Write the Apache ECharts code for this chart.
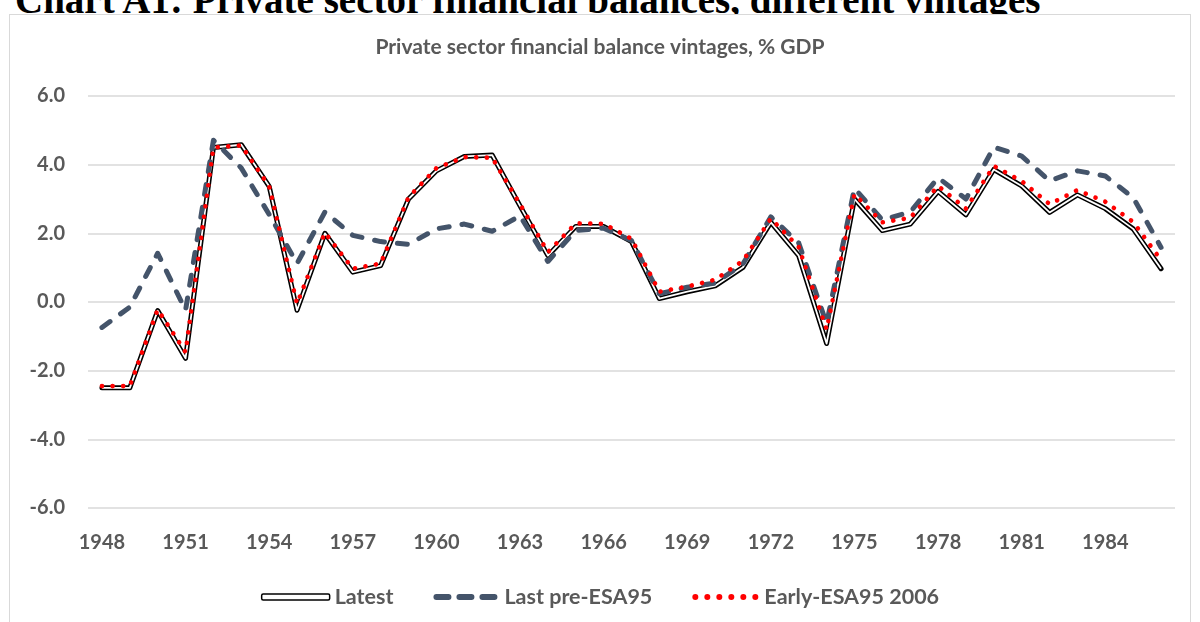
<!DOCTYPE html>
<html>
<head>
<meta charset="utf-8">
<script src="https://cdn.jsdelivr.net/npm/echarts@6/dist/echarts.min.js"></script>
<style>
    html, body {margin: 0; padding: 0; background: #fff; overflow: hidden;}
    #heading {
        position: absolute; left: 15px; top: -20px;
        font: bold 39px/39px "Liberation Serif", "Times New Roman", serif;
        color: #000; white-space: nowrap;
    }
    #box {
        position: absolute; left: 9px; top: 14px; width: 1180px; height: 640px;
        border: 1.5px solid #d9d9d9; background: #fff;
    }
    #chart {position: absolute; left: 0; top: 0; width: 1200px; height: 622px;}
</style>
</head>
<body>
<div id="heading">Chart A1: Private sector financial balances, different vintages</div>
<div id="box"></div>
<div id="chart"></div>
<script>
// years 1948 - 1986
const years = [
    '1948', '1949', '1950', '1951', '1952', '1953', '1954', '1955', '1956', '1957',
    '1958', '1959', '1960', '1961', '1962', '1963', '1964', '1965', '1966', '1967',
    '1968', '1969', '1970', '1971', '1972', '1973', '1974', '1975', '1976', '1977',
    '1978', '1979', '1980', '1981', '1982', '1983', '1984', '1985', '1986'
];

const latest = [
    -2.5, -2.5, -0.25, -1.64, 4.5, 4.58, 3.37, -0.24, 2.0, 0.87,
    1.06, 3.0, 3.82, 4.24, 4.28, 2.8, 1.35, 2.2, 2.2, 1.76,
    0.1, 0.3, 0.47, 1.01, 2.32, 1.35, -1.21, 3.0, 2.08, 2.27,
    3.22, 2.54, 3.86, 3.38, 2.61, 3.12, 2.72, 2.13, 0.97
];

const preEsa95 = [
    -0.74, -0.15, 1.42, -0.24, 4.71, 3.9, 2.55, 1.12, 2.62, 1.94,
    1.76, 1.68, 2.13, 2.27, 2.06, 2.51, 1.18, 2.08, 2.15, 1.79,
    0.24, 0.43, 0.55, 1.11, 2.48, 1.72, -0.63, 3.31, 2.39, 2.62,
    3.62, 3.0, 4.51, 4.25, 3.53, 3.82, 3.67, 3.04, 1.59
];

const earlyEsa95 = [
    -2.45, -2.45, -0.22, -1.46, 4.5, 4.56, 3.37, -0.05, 2.02, 0.97,
    1.12, 3.05, 3.9, 4.22, 4.2, 2.85, 1.45, 2.29, 2.28, 1.84,
    0.3, 0.45, 0.65, 1.2, 2.43, 1.6, -0.8, 3.14, 2.32, 2.45,
    3.38, 2.72, 3.96, 3.52, 2.85, 3.26, 2.92, 2.33, 1.22
];

const grey = '#595959';
const font = 'Lato, "Open Sans", sans-serif';

// legend icons: three round dashes / six dots
const dashIcon = 'path://M3,0H15A3,3 0 0 1 15,6H3A3,3 0 0 1 3,0Z'
    + 'M26,0H38A3,3 0 0 1 38,6H26A3,3 0 0 1 26,0Z'
    + 'M49,0H61A3,3 0 0 1 61,6H49A3,3 0 0 1 49,0Z';
let dotIcon = 'path://';
for (let i = 0; i < 6; i++) {
    let cx = 3 + i * 12;
    dotIcon += 'M' + (cx - 3) + ',3a3,3 0 1 0 6,0a3,3 0 1 0 -6,0Z';
}

let chart = echarts.init(document.getElementById('chart'));

chart.setOption({
    animation: false,
    title: {
        text: 'Private sector financial balance vintages, % GDP',
        left: 'center',
        top: 32,
        textStyle: {color: grey, fontFamily: font, fontWeight: 'bold', fontSize: 21}
    },
    grid: {left: 88, right: 25, top: 96, bottom: 114},
    legend: {
        bottom: 9,
        left: 'center',
        itemWidth: 68,
        itemHeight: 6,
        itemGap: 40,
        textStyle: {color: grey, fontFamily: font, fontWeight: 'bold', fontSize: 21.5},
        data: [
            {
                name: 'Latest',
                icon: 'roundRect',
                itemStyle: {color: '#fff', borderColor: '#000', borderWidth: 1.5}
            },
            {name: 'Last pre-ESA95', icon: dashIcon, itemStyle: {color: '#44546a'}},
            {name: 'Early-ESA95 2006', icon: dotIcon, itemStyle: {color: '#ff0000'}}
        ]
    },
    xAxis: {
        type: 'category',
        data: years,
        boundaryGap: true,
        axisLine: {show: false},
        axisTick: {show: false},
        axisLabel: {
            interval: 2,
            margin: 25,
            color: grey,
            fontFamily: font,
            fontWeight: 'bold',
            fontSize: 20
        }
    },
    yAxis: {
        type: 'value',
        min: -6,
        max: 6,
        interval: 2,
        axisLine: {show: false},
        axisTick: {show: false},
        axisLabel: {
            margin: 23,
            color: grey,
            fontFamily: font,
            fontWeight: 'bold',
            fontSize: 20,
            formatter: v => v.toFixed(1)
        },
        splitLine: {lineStyle: {color: '#d9d9d9', width: 1.5}}
    },
    series: [
        // black outline under the white line gives the double line look
        {
            name: 'Latest outline',
            type: 'line',
            data: latest,
            symbol: 'none',
            lineStyle: {color: '#000', width: 5, join: 'round', cap: 'round'},
            z: 2
        },
        {
            name: 'Latest',
            type: 'line',
            data: latest,
            symbol: 'none',
            itemStyle: {color: '#fff'},
            lineStyle: {color: '#fff', width: 1.8, join: 'round'},
            z: 3
        },
        {
            name: 'Last pre-ESA95',
            type: 'line',
            data: preEsa95,
            symbol: 'none',
            itemStyle: {color: '#44546a'},
            lineStyle: {color: '#44546a', width: 5, type: [10, 13], cap: 'round', join: 'round'},
            z: 4
        },
        {
            name: 'Early-ESA95 2006',
            type: 'line',
            data: earlyEsa95,
            symbol: 'none',
            itemStyle: {color: '#ff0000'},
            lineStyle: {color: '#ff0000', width: 4.6, type: [0.1, 10.5], cap: 'round', join: 'round'},
            z: 5
        }
    ]
});
</script>
</body>
</html>
